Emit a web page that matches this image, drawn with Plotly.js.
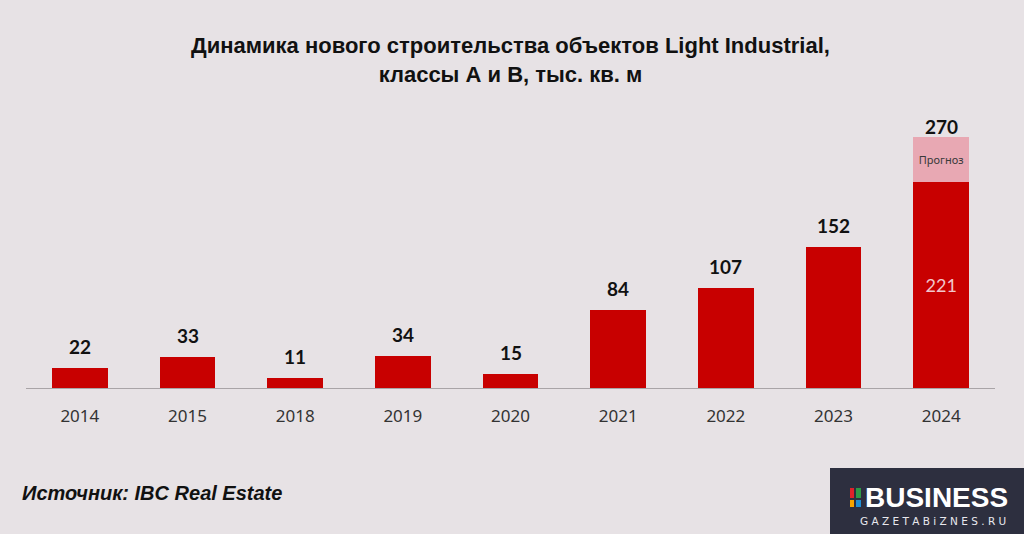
<!DOCTYPE html>
<html><head><meta charset="utf-8">
<script src="https://cdn.plot.ly/plotly-3.0.1.min.js"></script>
<style>html,body{margin:0;padding:0;background:#e7e2e5;}#c{width:1024px;height:534px;}</style>
</head><body><div id="c"></div>
<script>
const years = ['2014','2015','2018','2019','2020','2021','2022','2023','2024'];
const built = [22, 33, 11, 34, 15, 84, 107, 152, 221];
const forecast = [null, null, null, null, null, null, null, null, 49];
const totals = [22, 33, 11, 34, 15, 84, 107, 152, 270];
const insideLabels = ['', '', '', '', '', '', '', '', '221'];
const forecastLabel = 'Прогноз';

const bg = '#e7e2e5';
const traces = [
  {type:'bar', x: years, y: built, marker:{color:'#c80000', line:{width:0}}, width:0.52,
   text: insideLabels, textposition:'inside', insidetextanchor:'middle', constraintext:'none', textangle:0,
   textfont:{family:'Lato, "Noto Sans", sans-serif', size:18, color:'#f1c6cb'}, hoverinfo:'skip'},
  {type:'bar', x: years, y: forecast, marker:{color:'#e8a8b3', line:{width:0}}, width:0.52,
   text: forecast.map(v => v == null ? '' : forecastLabel), textposition:'inside', insidetextanchor:'middle', constraintext:'none', textangle:0,
   textfont:{family:'"Noto Sans", sans-serif', size:11, color:'#3a3a3a'}, hoverinfo:'skip'}
];
const annotations = years.map((y, i) => ({
  x: i, y: totals[i], xref:'x', yref:'y', text: '<b>' + totals[i] + '</b>', showarrow:false,
  yanchor:'bottom', yshift: (i === years.length-1 ? -3 : 8), font:{family:'Lato, "Noto Sans", sans-serif', size:19, color:'#111'}
}));
annotations.push({xref:'paper', yref:'paper', x:-0.006, y:(388-493)/279, xanchor:'left', yanchor:'middle', showarrow:false,
  text:'<b><i>Источник: IBC Real Estate</i></b>', font:{family:'"Liberation Sans", Arial, sans-serif', size:20, color:'#111'}});
// logo
annotations.push({xref:'paper', yref:'paper', x:(1010-26)/969, y:(388-497)/279, xanchor:'right', yanchor:'middle', showarrow:false,
  text:'<b>BUSINESS</b>', font:{family:'"Liberation Sans", Arial, sans-serif', size:28, color:'#ffffff'}});
annotations.push({xref:'paper', yref:'paper', x:(1008-26)/969, y:(388-521)/279, xanchor:'right', yanchor:'middle', showarrow:false,
  text:'G A Z E T A B i Z N E S . R U', font:{family:'"DejaVu Sans", sans-serif', size:10.5, color:'#e8e8ee'}});

const px = v => (v-26)/969, py = v => (388-v)/279;
const layout = {
  width:1024, height:534,
  paper_bgcolor:bg, plot_bgcolor:bg,
  margin:{l:26, r:29, t:109, b:146},
  barmode:'stack', showlegend:false,
  title:{text:'<b>Динамика нового строительства объектов Light Industrial,<br>классы А и В, тыс. кв. м</b>',
    x:0.5, xref:'paper', y:1-53/534, yanchor:'middle',
    font:{family:'"Liberation Sans", Arial, sans-serif', size:22, color:'#111'}},
  xaxis:{type:'category', range:[-0.5, years.length-0.5], autorange:false, showline:true, linecolor:'#a9a4a7', linewidth:1, ticks:'', showgrid:false,
    tickfont:{family:'"Noto Sans", sans-serif', size:17, color:'#333'}, ticklabelstandoff:13},
  yaxis:{range:[0,300], autorange:false, visible:false, showgrid:false, zeroline:false},
  annotations: annotations,
  shapes:[
    {type:'rect', xref:'paper', yref:'paper', x0:px(830), x1:px(1030), y0:py(534), y1:py(468), fillcolor:'#2d2f3f', line:{width:0}, layer:'above'},
    {type:'rect', xref:'paper', yref:'paper', x0:px(850), x1:px(854), y0:py(498), y1:py(488), fillcolor:'#e0222a', line:{width:0}, layer:'above'},
    {type:'rect', xref:'paper', yref:'paper', x0:px(856), x1:px(861), y0:py(498), y1:py(488), fillcolor:'#2e9a48', line:{width:0}, layer:'above'},
    {type:'rect', xref:'paper', yref:'paper', x0:px(850), x1:px(854), y0:py(507), y1:py(500), fillcolor:'#f5a400', line:{width:0}, layer:'above'},
    {type:'rect', xref:'paper', yref:'paper', x0:px(856), x1:px(861), y0:py(507), y1:py(500), fillcolor:'#1e8fd6', line:{width:0}, layer:'above'}
  ]
};
Plotly.newPlot('c', traces, layout, {displayModeBar:false, staticPlot:true});
</script>
</body></html>
